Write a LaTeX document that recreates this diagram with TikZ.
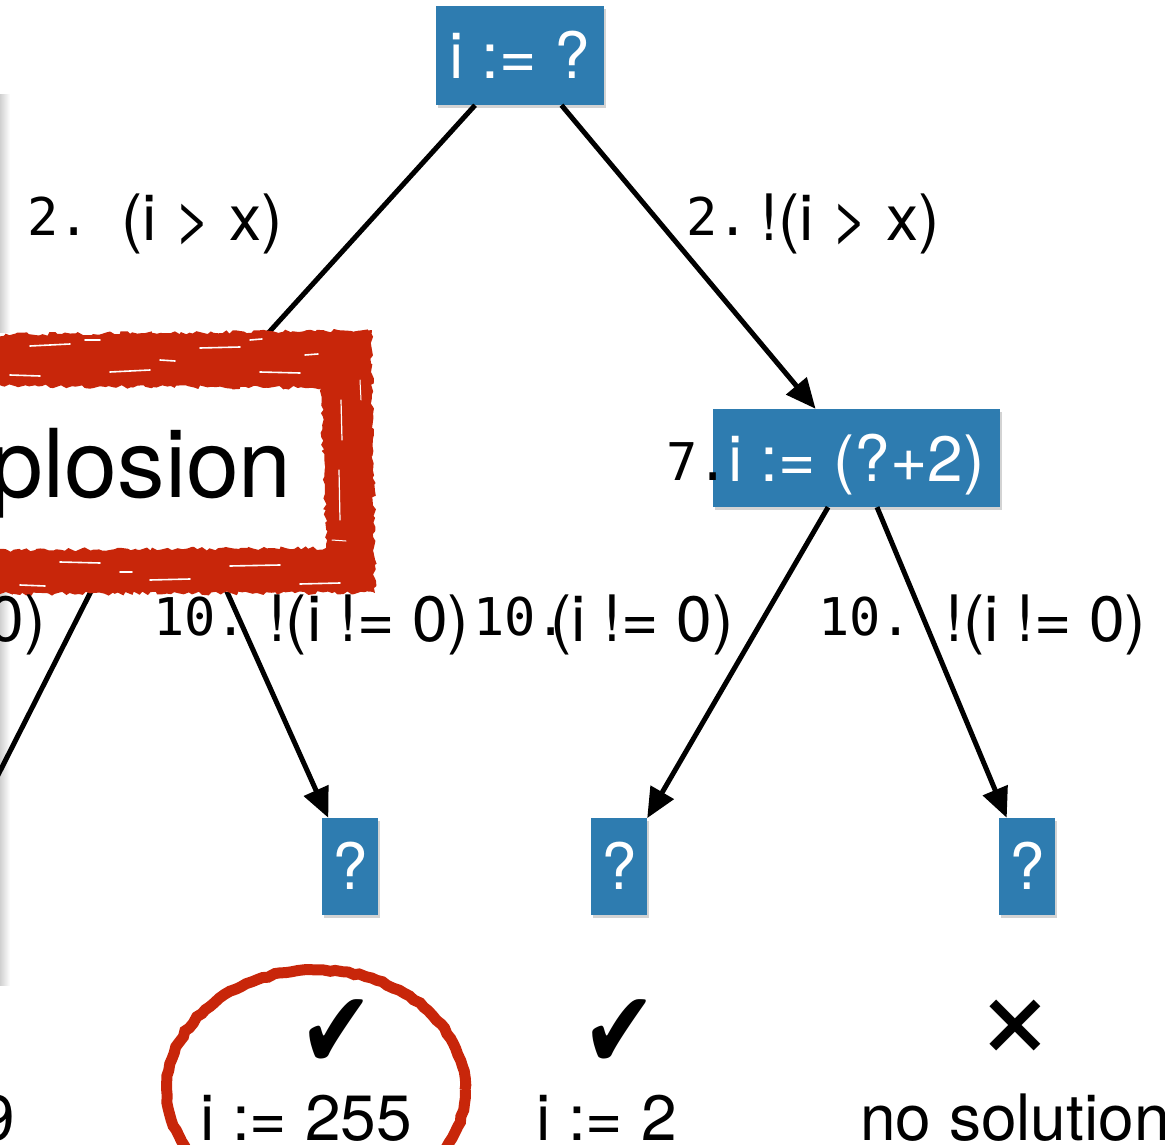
\documentclass[tikz,border=0pt]{standalone}
\usepackage{fontspec}
\setmainfont{TeX Gyre Heros}
\newfontfamily\monof{DejaVu Sans Mono}
\newfontfamily\symf{DejaVu Sans}
\usetikzlibrary{arrows.meta,shadows,decorations.pathmorphing}
\definecolor{nodeblue}{RGB}{46,124,176}
\definecolor{markred}{RGB}{200,38,10}
\begin{document}
\begin{tikzpicture}[x=1pt,y=-1pt,
  bluebox/.style={rectangle,fill=nodeblue,text=white,inner sep=0pt,
    font=\fontsize{64}{64}\selectfont,text height=46pt,text depth=0pt,
    drop shadow={opacity=0.35,shadow xshift=2pt,shadow yshift=-3pt}},
  edge/.style={line width=5pt,-{Triangle[length=30pt,width=26pt]}},
  plainedge/.style={line width=5pt},
  lab/.style={inner sep=0pt,font=\fontsize{64}{64}\selectfont},
  num/.style={inner sep=0pt,font=\monof\fontsize{52}{52}\selectfont},
  resultmark/.style={inner sep=0pt,font=\symf\fontsize{104}{104}\selectfont},
  crossmark/.style={inner sep=0pt,font=\fontsize{140}{140}\selectfont},
  texture/.style={white,line width=1.6pt,line cap=round}]
\useasboundingbox (0,0) rectangle (1165,1145);
\clip (0,0) rectangle (1165,1145);

% left panel shadow edge
\shade[left color=black!22,right color=white] (-2,95) rectangle (10,985);

% nodes
\node[bluebox,minimum width=168pt,minimum height=99pt] (root) at (520,55.5) {i := ?};
\coordinate (hid) at (163,449);
\coordinate (ll) at (-48,866);
\node[bluebox,minimum width=287pt,minimum height=98pt] (R) at (856.5,458) {i := (?+2)};
\node[bluebox,minimum width=56pt,minimum height=97pt] (q1) at (350,866.5) {?};
\node[bluebox,minimum width=56pt,minimum height=97pt] (q2) at (619,866.5) {?};
\node[bluebox,minimum width=56pt,minimum height=97pt] (q3) at (1027,866.5) {?};

% edges
\draw[plainedge] (root) -- (hid);
\draw[plainedge] (hid) -- (ll);
\draw[edge] (hid) -- (q1);
\draw[edge] (root) -- (R);
\draw[edge] (R) -- (q2);
\draw[edge] (R) -- (q3);

% explosion box
\fill[white] (-30,333) rectangle (372,592);
\node[lab,anchor=base east,font=\fontsize{95}{95}\selectfont] (expl) at (292,497) {plosion};
\fill[markred,even odd rule,decorate,decoration={random steps,segment length=4pt,amplitude=2pt}]
  (-30,335) -- (372,330) -- (375,593) -- (-30,594) -- cycle
  (-30,386) -- (321,388) -- (326,548) -- (-30,550) -- cycle;
\draw[texture] (30,346) -- (70,344);
\draw[texture] (85,340) -- (100,340);
\draw[texture] (110,372) -- (150,370);
\draw[texture] (160,360) -- (175,361);
\draw[texture] (200,348) -- (240,347);
\draw[texture] (250,340) -- (262,339);
\draw[texture] (260,372) -- (300,373);
\draw[texture] (305,355) -- (318,354);
\draw[texture] (10,375) -- (40,376);
\draw[texture] (60,562) -- (100,563);
\draw[texture] (120,572) -- (132,572);
\draw[texture] (150,580) -- (190,579);
\draw[texture] (230,566) -- (280,565);
\draw[texture] (300,584) -- (340,583);
\draw[texture] (20,585) -- (45,586);
\draw[texture,line width=1.2pt] (341,400) -- (342,440);
\draw[texture,line width=1.2pt] (339,470) -- (340,520);
\draw[texture,line width=1.0pt] (360,380) -- (361,400);
\draw[texture,line width=1.0pt] (332,540) -- (346,541);

% edge labels
\node[num,anchor=base west] (l1a) at (27,235) {2.};
\node[lab,anchor=base west] (l1b) at (121,240) {(i > x)};
\node[num,anchor=base west] (l2a) at (686,235) {2.};
\node[lab,anchor=base west] (l2b) at (760,240) {!(i > x)};
\node[num,anchor=base west] (l3) at (666,480) {7.};
\node[lab,anchor=base east] (l4) at (46,641) {0)};
\node[num,anchor=base west] (l5a) at (153,635) {10.};
\node[lab,anchor=base west] (l5b) at (268,641) {!(i != 0)};
\node[num,anchor=base west] (l6a) at (473,635) {10.};
\node[lab,anchor=base west] (l6b) at (550,641) {(i != 0)};
\node[num,anchor=base west] (l7a) at (818,635) {10.};
\node[lab,anchor=base west] (l7b) at (945,641) {!(i != 0)};

% results
\node[lab,anchor=base east] (r0) at (15,1140) {9};
\node[resultmark] (c1) at (337,1034) {\scalebox{0.85}[1.05]{✔}};
\node[lab,anchor=base west] (r1) at (200,1140) {i := 255};
\node[resultmark] (c2) at (620,1034) {\scalebox{0.85}[1.05]{✔}};
\node[lab,anchor=base west] (r2) at (536,1140) {i := 2};
\node[crossmark] (c3) at (1015,1030) {×};
\node[lab,anchor=base west] (r3) at (860,1140) {no solution};

% red circle
\draw[markred,line width=11pt,decorate,decoration={random steps,segment length=6pt,amplitude=1pt}]
  (316,1090) ellipse [x radius=149pt,y radius=120pt];
\end{tikzpicture}
\end{document}
